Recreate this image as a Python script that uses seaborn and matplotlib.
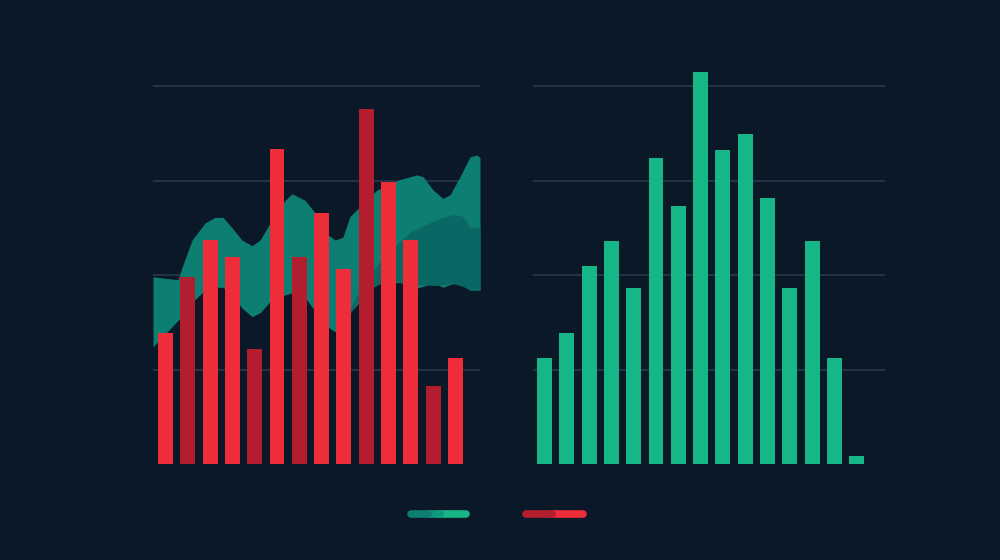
import numpy as np
import pandas as pd
import matplotlib
matplotlib.use("Agg")
import matplotlib.pyplot as plt
from matplotlib.lines import Line2D
import seaborn as sns

# colours
BG = "#0b1828"
GRID = "#2c3b4e"
RED = "#ee2d3b"
DARK_RED = "#b31e2f"
TEAL = "#0d7e72"
DARK_TEAL = "#0a6864"
GREEN = "#17b686"

# left panel: red bars, light / dark tone
red_values = [1.39, 1.98, 2.37, 2.19, 1.22, 3.33, 2.19, 2.66, 2.06, 3.76, 2.98, 2.37, 0.83, 1.12]
red_tones = ["light", "dark", "light", "light", "dark", "light", "dark",
             "light", "light", "dark", "light", "light", "dark", "light"]

# left panel: teal band behind the bars (outer band)
band_x = [-0.56, 0.56, 0.74, 1.19, 1.77, 2.22, 2.58, 2.98, 3.43, 3.88, 4.24, 4.69, 5.36, 5.67,
          6.26, 6.7, 7.15, 7.6, 7.95, 8.27, 9.48, 10.51, 11.27, 11.55, 12.0, 12.44, 12.76,
          13.2, 13.65, 13.97, 14.1]
band_top = [1.98, 1.95, 2.08, 2.37, 2.55, 2.61, 2.61, 2.50, 2.37, 2.31, 2.37, 2.55, 2.79, 2.86,
            2.79, 2.66, 2.45, 2.37, 2.40, 2.62, 2.90, 3.01, 3.06, 3.04, 2.90, 2.81, 2.85,
            3.04, 3.25, 3.27, 3.24]
band_bottom = [1.24, 1.52, 1.56, 1.71, 1.84, 1.87, 1.87, 1.79, 1.65, 1.56, 1.60, 1.72, 1.79, 1.81,
               1.76, 1.62, 1.47, 1.40, 1.46, 1.60, 1.92, 1.92, 1.86, 1.88, 1.92, 1.87, 1.90,
               1.92, 1.84, 1.84, 1.84]

# inner darker band on the right side of the teal shape
inner_x = [7.83, 8.5, 9.17, 9.93, 10.96, 12.17, 12.89, 13.34, 13.65, 14.1]
inner_top = [1.44, 1.75, 2.0, 2.24, 2.45, 2.59, 2.64, 2.62, 2.50, 2.51]
inner_bottom = [1.42, 1.68, 1.85, 1.95, 1.90, 1.89, 1.91, 1.88, 1.84, 1.84]

# right panel: green bars
green_values = [1.12, 1.39, 2.10, 2.36, 1.86, 3.24, 2.73, 4.15, 3.32, 3.49, 2.81, 1.86, 2.36, 1.12, 0.09]

grid_levels = [1, 2, 3, 4]


def style_axis(ax, xlim):
    """dark axis with only the horizontal guide lines"""
    ax.set_facecolor(BG)
    ax.set_xlim(*xlim)
    ax.set_ylim(0, 4.4)
    ax.set_yticks(grid_levels)
    ax.set_xticks([])
    ax.grid(axis="y", color=GRID, linewidth=1.1)
    ax.set_axisbelow(True)
    ax.tick_params(length=0, labelleft=False, labelbottom=False)
    ax.set_xlabel("")
    ax.set_ylabel("")
    for s in ax.spines.values():
        s.set_visible(False)


sns.set_theme(style="dark")
fig = plt.figure(figsize=(10, 5.6), dpi=100, facecolor=BG)

ax_left = fig.add_axes([0.153, 0.1714, 0.327, 0.7425])
ax_right = fig.add_axes([0.533, 0.1714, 0.352, 0.7425])

# teal shapes first, bars on top
ax_left.fill_between(band_x, band_bottom, band_top, color=TEAL, linewidth=0, zorder=1)
ax_left.fill_between(inner_x, inner_bottom, inner_top, color=DARK_TEAL, linewidth=0, zorder=1.5)

red_df = pd.DataFrame({"pos": range(len(red_values)), "value": red_values, "tone": red_tones})
sns.barplot(data=red_df, x="pos", y="value", hue="tone", dodge=False,
            palette={"light": RED, "dark": DARK_RED}, width=0.67, legend=False,
            saturation=1, linewidth=0, ax=ax_left, zorder=2)
style_axis(ax_left, (-0.56, 14.1))

green_df = pd.DataFrame({"pos": range(len(green_values)), "value": green_values})
sns.barplot(data=green_df, x="pos", y="value", color=GREEN, width=0.67,
            saturation=1, linewidth=0, ax=ax_right, zorder=2)
style_axis(ax_right, (-0.516, 15.27))

# legend swatches at the bottom (no labels)
def swatch(x0, x1, color):
    fig.add_artist(Line2D([x0 / 1000, x1 / 1000], [1 - 514 / 560] * 2, color=color,
                          linewidth=5.5, solid_capstyle="round", transform=fig.transFigure))

swatch(438, 466, GREEN)
swatch(428, 440, "#11977c")
swatch(411, 428, TEAL)
swatch(552, 583, RED)
swatch(526, 552, DARK_RED)

fig.savefig("out.png", dpi=100, facecolor=BG)
